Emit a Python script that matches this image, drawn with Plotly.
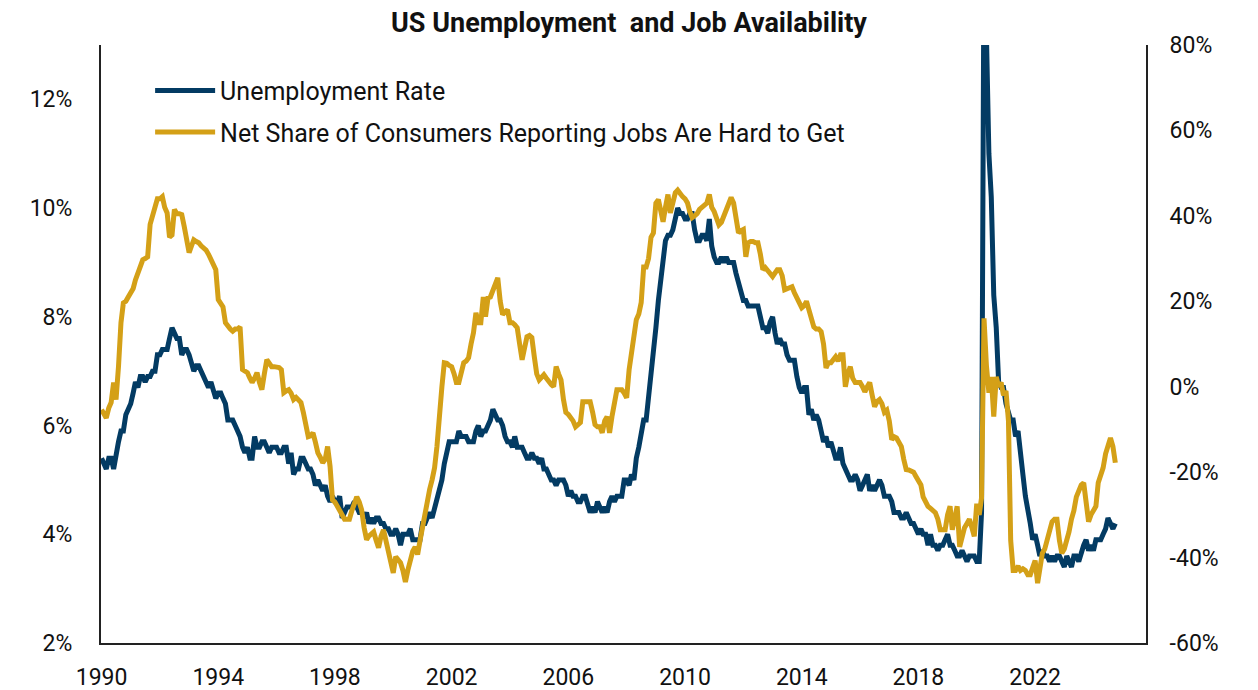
import pandas as pd
import plotly.graph_objects as go

# ---- data (monthly, Jan 1990 - Oct 2024) ----
start_month = "1990-01-01"
unemployment_rate = [
    5.4, 5.3, 5.2, 5.4, 5.4, 5.2, 5.5, 5.7, 5.9, 5.9, 6.2, 6.3,   # 1990
    6.4, 6.6, 6.8, 6.7, 6.9, 6.9, 6.8, 6.9, 6.9, 7.0, 7.0, 7.3,   # 1991
    7.3, 7.4, 7.4, 7.4, 7.6, 7.8, 7.7, 7.6, 7.6, 7.3, 7.4, 7.4,   # 1992
    7.3, 7.1, 7.0, 7.1, 7.1, 7.0, 6.9, 6.8, 6.7, 6.8, 6.6, 6.5,   # 1993
    6.6, 6.6, 6.5, 6.4, 6.1, 6.1, 6.1, 6.0, 5.9, 5.8, 5.6, 5.5,   # 1994
    5.6, 5.4, 5.4, 5.8, 5.6, 5.6, 5.7, 5.7, 5.6, 5.5, 5.6, 5.6,   # 1995
    5.6, 5.5, 5.5, 5.6, 5.6, 5.3, 5.5, 5.1, 5.2, 5.2, 5.4, 5.4,   # 1996
    5.3, 5.2, 5.2, 5.1, 4.9, 5.0, 4.9, 4.8, 4.9, 4.7, 4.6, 4.7,   # 1997
    4.6, 4.6, 4.7, 4.3, 4.4, 4.5, 4.5, 4.5, 4.6, 4.5, 4.4, 4.4,   # 1998
    4.3, 4.4, 4.2, 4.3, 4.2, 4.3, 4.3, 4.2, 4.2, 4.1, 4.1, 4.0,   # 1999
    4.0, 4.1, 4.0, 3.8, 4.0, 4.0, 4.0, 4.1, 3.9, 3.9, 3.9, 3.9,   # 2000
    4.2, 4.2, 4.3, 4.4, 4.3, 4.5, 4.6, 4.9, 5.0, 5.3, 5.5, 5.7,   # 2001
    5.7, 5.7, 5.7, 5.9, 5.8, 5.8, 5.8, 5.7, 5.7, 5.7, 5.9, 6.0,   # 2002
    5.8, 5.9, 5.9, 6.0, 6.1, 6.3, 6.2, 6.1, 6.1, 6.0, 5.8, 5.7,   # 2003
    5.7, 5.6, 5.8, 5.6, 5.6, 5.6, 5.5, 5.4, 5.4, 5.5, 5.4, 5.4,   # 2004
    5.3, 5.4, 5.2, 5.2, 5.1, 5.0, 5.0, 4.9, 5.0, 5.0, 5.0, 4.9,   # 2005
    4.7, 4.8, 4.7, 4.7, 4.6, 4.6, 4.7, 4.7, 4.5, 4.4, 4.5, 4.4,   # 2006
    4.6, 4.5, 4.4, 4.5, 4.4, 4.6, 4.7, 4.6, 4.7, 4.7, 4.7, 5.0,   # 2007
    5.0, 4.9, 5.1, 5.0, 5.4, 5.6, 5.8, 6.1, 6.1, 6.5, 6.8, 7.3,   # 2008
    7.8, 8.3, 8.7, 9.0, 9.4, 9.5, 9.5, 9.6, 9.8, 10.0, 9.9, 9.9,  # 2009
    9.8, 9.8, 9.9, 9.9, 9.6, 9.4, 9.4, 9.5, 9.5, 9.4, 9.8, 9.3,   # 2010
    9.1, 9.0, 9.0, 9.1, 9.0, 9.1, 9.0, 9.0, 9.0, 8.8, 8.6, 8.5,   # 2011
    8.3, 8.3, 8.2, 8.2, 8.2, 8.2, 8.2, 8.0, 7.8, 7.8, 7.7, 7.9,   # 2012
    8.0, 7.7, 7.5, 7.6, 7.5, 7.5, 7.3, 7.2, 7.2, 7.2, 6.9, 6.7,   # 2013
    6.6, 6.7, 6.7, 6.2, 6.3, 6.1, 6.2, 6.1, 5.9, 5.7, 5.8, 5.6,   # 2014
    5.7, 5.5, 5.4, 5.4, 5.6, 5.3, 5.2, 5.1, 5.0, 5.0, 5.1, 5.0,   # 2015
    4.8, 4.9, 5.0, 5.1, 4.8, 4.9, 4.8, 4.9, 5.0, 4.9, 4.7, 4.7,   # 2016
    4.7, 4.6, 4.4, 4.4, 4.4, 4.3, 4.3, 4.4, 4.3, 4.2, 4.2, 4.1,   # 2017
    4.0, 4.1, 4.0, 4.0, 3.8, 4.0, 3.8, 3.8, 3.7, 3.8, 3.8, 3.9,   # 2018
    4.0, 3.8, 3.8, 3.7, 3.6, 3.6, 3.7, 3.6, 3.5, 3.6, 3.6, 3.6,   # 2019
    3.5, 3.5, 4.4, 14.8, 13.2, 11.0, 10.2, 8.4, 7.8, 6.8, 6.7, 6.7,  # 2020
    6.4, 6.2, 6.1, 6.1, 5.8, 5.9, 5.4, 5.1, 4.7, 4.5, 4.2, 3.9,   # 2021
    4.0, 3.8, 3.6, 3.7, 3.6, 3.6, 3.5, 3.6, 3.5, 3.6, 3.6, 3.5,   # 2022
    3.4, 3.6, 3.5, 3.4, 3.6, 3.6, 3.5, 3.7, 3.8, 3.9, 3.7, 3.8,   # 2023
    3.7, 3.9, 3.9, 3.9, 4.0, 4.1, 4.3, 4.2, 4.1, 4.2,             # 2024
]
jobs_hard_to_get_net = [
    -5.4, -6.5, -7.3, -5, -3.7, 1, -3, 4.7, 15, 19.6, 20, 21,                 # 1990
    22, 23, 25, 26.7, 28, 29.7, 30, 30.4, 38, 40, 43, 44,                     # 1991
    44, 44.5, 42, 40.7, 35, 35.5, 41.5, 40.5, 40.5, 40.3, 37.5, 35,           # 1992
    31.4, 33, 34.4, 34, 33.7, 33, 32.5, 32, 31, 30, 28.5, 27.4,               # 1993
    20.4, 19.5, 18.7, 15, 14, 13.5, 13, 13.5, 13.5, 14, 4, 3.5,               # 1994
    3.3, 2, 1, 2, 3.3, 1, -0.7, 3, 6.3, 5.5, 4.7, 4.7,                        # 1995
    4.7, 4.5, 4, -1.4, -1, -0.7, -1.5, -3, -2.5, -3, -3.7, -6,                # 1996
    -8.4, -11.7, -11.5, -10.8, -13, -15.5, -16.5, -17.8, -17, -14, -18.7, -26.5,  # 1997
    -27, -28, -28.8, -30, -31, -31, -31, -29, -27, -25.8, -27, -28.8,         # 1998
    -33, -35.8, -35, -34.5, -34, -36, -37.7, -35, -33.5, -36, -38.2, -41,     # 1999
    -43.6, -39.8, -40.5, -41.2, -43, -45.7, -43, -40.5, -38.5, -37.5, -39.3, -36,  # 2000
    -32.8, -28.8, -26, -24, -21.8, -19, -14, -5.4, 0, 5.6, 5.5, 5,            # 2001
    4.7, 3, 1, 1, 3, 5.6, 6, 6.8, 10, 12.6, 17.3, 15,                         # 2002
    15, 21, 16.4, 20.8, 21, 22.7, 24, 25.5, 20, 16.9, 17.5, 18,               # 2003
    15, 15, 14.5, 13.8, 10, 6.3, 9, 11.7, 12, 11.5, 7, 3,                     # 2004
    1.6, 2.5, 2.8, 2, 1, 0.5, 0, 4.7, 3, 1.6, -3, -6,                         # 2005
    -6.5, -7.3, -8, -9.4, -9, -8.4, -3.5, -3.5, -3.5, -3.5, -6, -8.9,         # 2006
    -9.4, -9.4, -10.8, -8, -7, -10.8, -7, -3, -0.7, -0.7, -0.7, -1.5,         # 2007
    -2.6, 4, 8, 11.7, 15.7, 17, 19.7, 28, 28, 30, 35, 36,                     # 2008
    43, 43.8, 41, 38.6, 42, 45, 40.7, 43, 45.4, 46, 45, 44.5,                 # 2009
    44, 43, 41, 39.6, 40, 40.5, 41.5, 42, 42.5, 43, 45, 42,                   # 2010
    41, 39, 37.9, 38.5, 39.8, 41, 43, 44.3, 43, 39, 36, 36.5,                 # 2011
    36.8, 30.4, 33.7, 34, 34, 33.7, 33.7, 31, 27.4, 27.9, 27, 26.5,           # 2012
    25.8, 26.5, 27.4, 27.4, 26, 22.7, 23, 23.4, 23.4, 22, 20.8, 19.5,         # 2013
    18.5, 19, 20, 18, 16, 14, 13.5, 13.5, 12.9, 10, 4.4, 5.6,                 # 2014
    5.6, 6.5, 7, 6, 7.5, 7.5, 0, 3, 4.7, 2, 1, 1,                             # 2015
    1, 0, -1.2, 0, 1, -2, -4.7, -3.5, -3, -4, -6, -5.5,                       # 2016
    -8, -12.4, -11.7, -12, -13, -14, -17, -19.4, -19.5, -19.8, -20, -21,      # 2017
    -21.8, -23, -25.8, -27, -28, -28.5, -29, -29.5, -31, -33.5, -33.5, -33.5, # 2018
    -30, -28, -33.5, -30, -28, -37.5, -35, -33, -32, -31, -33, -35,           # 2019
    -27.4, -30, -26, 16, 5, -1.4, 2.3, -7, 2.3, 0, 1, -2,                     # 2020
    -1, -8, -36, -43, -43, -42, -43, -42.6, -43, -44, -44, -42,               # 2021
    -40.7, -46, -42, -39, -38, -36, -34, -31.6, -31, -31, -36, -39,           # 2022
    -38, -36, -34, -31, -29, -25.8, -24, -23, -22.5, -27, -31.6, -30,         # 2023
    -29, -28, -22.5, -21, -19, -15.7, -14, -12, -14, -17.8,                   # 2024
]
tick_years = [1990, 1994, 1998, 2002, 2006, 2010, 2014, 2018, 2022]
left_ticks = [2, 4, 6, 8, 10, 12]
right_ticks = [-60, -40, -20, 0, 20, 40, 60, 80]

dates = pd.date_range(start_month, periods=len(unemployment_rate), freq="MS")

NAVY = "#033B63"
GOLD = "#D4A017"
FONT = "Roboto, sans-serif"

fig = go.Figure()
fig.add_trace(go.Scatter(x=dates, y=unemployment_rate, name="Unemployment Rate",
                         mode="lines", line=dict(color=NAVY, width=5), yaxis="y",
                         legendgroup="a"))
fig.add_trace(go.Scatter(x=dates, y=jobs_hard_to_get_net,
                         name="Net Share of Consumers Reporting Jobs Are Hard to Get",
                         mode="lines", line=dict(color=GOLD, width=5), yaxis="y2",
                         legendgroup="b"))

fig.update_layout(
    width=1258, height=690,
    margin=dict(l=101, r=112, t=45, b=47, autoexpand=False),
    paper_bgcolor="white", plot_bgcolor="white",
    font=dict(family=FONT, size=23, color="#111111"),
    title=dict(text="<b>US Unemployment  and Job Availability</b>", x=0.5, xanchor="center",
               y=0.968, yanchor="middle", font=dict(size=27, color="#111111")),
    showlegend=True,
    legend=dict(x=0.047, y=0.962, xanchor="left", yanchor="top", bgcolor="rgba(0,0,0,0)",
                font=dict(size=25), tracegroupgap=6, itemwidth=60),
    xaxis=dict(type="date", range=["1989-12-25", "2025-10-20"], automargin=False,
               tickvals=[f"{y}-01-01" for y in tick_years], ticktext=[str(y) for y in tick_years],
               showline=True, linecolor="#222222", linewidth=2, showgrid=False, zeroline=False,
               ticks="", ticklabelstandoff=12),
    yaxis=dict(range=[2, 13], tickvals=left_ticks, ticktext=[f"{v}%" for v in left_ticks],
               automargin=False,
               showline=True, linecolor="#222222", linewidth=2, showgrid=False, zeroline=False,
               ticks="", ticklabelstandoff=22),
    yaxis2=dict(range=[-60, 80], overlaying="y", side="right", tickvals=right_ticks,
                ticktext=[f"{v}%" for v in right_ticks], automargin=False,
                showline=True, linecolor="#222222", linewidth=2, showgrid=False, zeroline=False,
                ticks="", ticklabelstandoff=17),
)

fig.write_html("out.html", config={"displayModeBar": False},
               post_script="document.body.style.margin='0';")
